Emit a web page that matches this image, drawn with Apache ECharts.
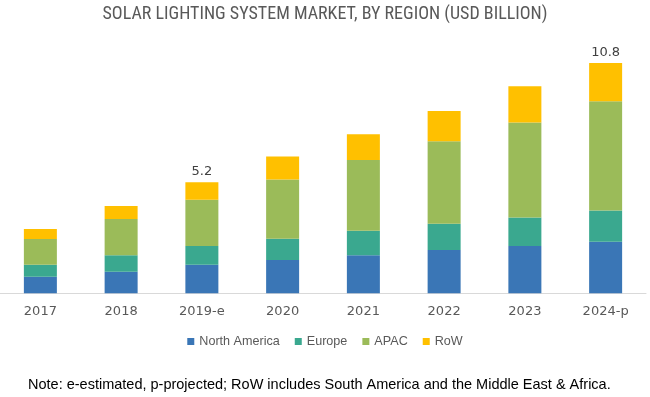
<!DOCTYPE html>
<html>
<head>
<meta charset="utf-8">
<script src="https://cdn.jsdelivr.net/npm/echarts@6/dist/echarts.min.js"></script>
<style>html,body{margin:0;padding:0;background:#fff;}#c{width:650px;height:397px;}</style>
</head>
<body>
<div id="c"></div>
<script>
const categories = ['2017', '2018', '2019-e', '2020', '2021', '2022', '2023', '2024-p'];
const northAmerica = [0.78, 1.01, 1.34, 1.56, 1.78, 2.03, 2.22, 2.42];
const europe       = [0.56, 0.77, 0.88, 1.00, 1.15, 1.23, 1.33, 1.46];
const apac         = [1.20, 1.70, 2.17, 2.77, 3.32, 3.87, 4.46, 5.12];
const row          = [0.47, 0.61, 0.82, 1.08, 1.21, 1.42, 1.69, 1.80];
const totalLabels  = ['', '', '5.2', '', '', '', '', '10.8'];

const chart = echarts.init(document.getElementById('c'));
const barW = 33;
function mk(name, data, color) {
  return { name, type: 'bar', stack: 'total', data, barWidth: barW,
    itemStyle: { color }, emphasis: { disabled: true } };
}
const rowSeries = mk('RoW', row, '#FFC000');
rowSeries.label = {
  show: true, position: 'top', distance: 4,
  fontFamily: 'DejaVu Sans', fontSize: 13, color: '#404040',
  formatter: p => totalLabels[p.dataIndex]
};
chart.setOption({
  animation: false,
  title: [{
    text: 'SOLAR LIGHTING SYSTEM MARKET, BY REGION (USD BILLION)',
    left: 'center', top: 0,
    textStyle: { fontFamily: 'Liberation Sans Narrow, Roboto Condensed, Liberation Sans', fontWeight: 'normal', fontSize: 18, color: '#595959' }
  }, {
    text: 'Note: e-estimated, p-projected; RoW includes South America and the Middle East & Africa.',
    left: 23, top: 372,
    textStyle: { fontFamily: 'Liberation Sans', fontWeight: 'normal', fontSize: 14.5, color: '#000' }
  }],
  legend: {
    data: ['North America', 'Europe', 'APAC', 'RoW'],
    left: 'center', top: 330,
    icon: 'rect', itemWidth: 7, itemHeight: 7, itemGap: 15,
    textStyle: { fontFamily: 'Liberation Sans', fontSize: 12.6, color: '#595959', padding: [0, 0, 0, 0] }
  },
  grid: { left: -2, width: 648, top: 37.3, bottom: 103.7, containLabel: false },
  xAxis: {
    type: 'category', data: categories,
    axisLine: { lineStyle: { color: '#D9D9D9' } },
    axisTick: { show: false },
    axisLabel: { fontFamily: 'DejaVu Sans', fontSize: 13, color: '#595959', margin: 12 }
  },
  yAxis: { type: 'value', min: 0, max: 12, show: false, splitLine: { show: false } },
  series: [
    mk('North America', northAmerica, '#3A76B6'),
    mk('Europe', europe, '#3AA88F'),
    mk('APAC', apac, '#9BBB59'),
    rowSeries
  ]
});
</script>
</body>
</html>
